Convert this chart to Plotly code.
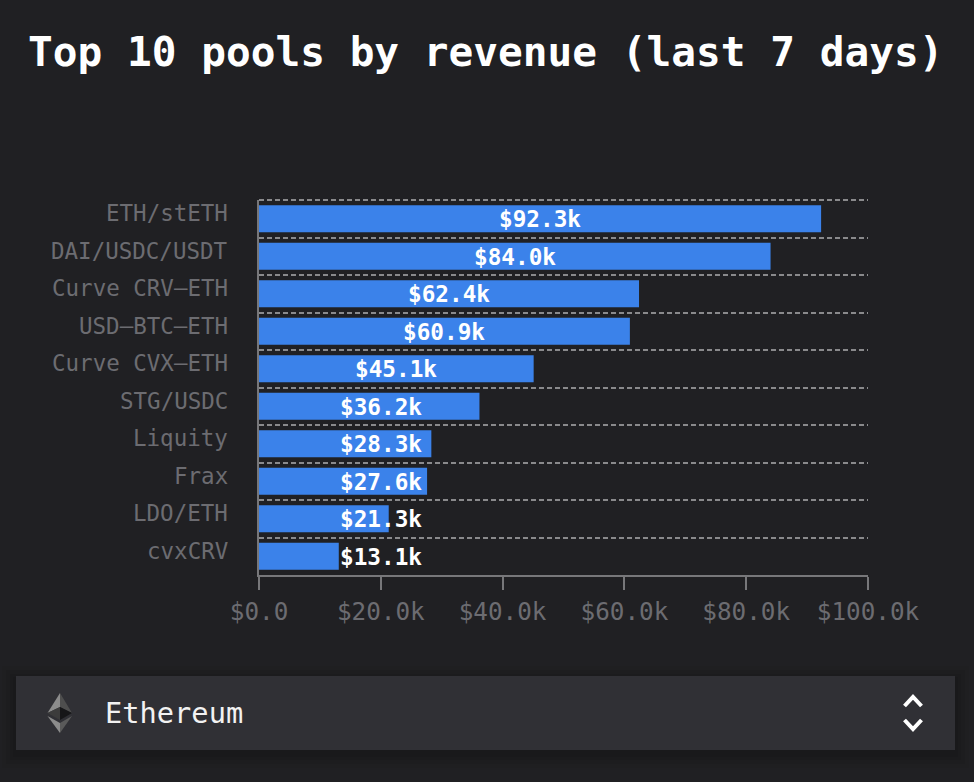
import plotly.graph_objects as go

# Pool revenue over the last seven days, in US dollars
pools = ["ETH/stETH", "DAI/USDC/USDT", "Curve CRV\u2014ETH", "USD\u2014BTC\u2014ETH", "Curve CVX\u2014ETH",
         "STG/USDC", "Liquity", "Frax", "LDO/ETH", "cvxCRV"]
revenue = [92300, 84000, 62400, 60900, 45100, 36200, 28300, 27600, 21300, 13100]
revenue_labels = ["$92.3k", "$84.0k", "$62.4k", "$60.9k", "$45.1k", "$36.2k", "$28.3k", "$27.6k", "$21.3k", "$13.1k"]
tick_values = [0, 20000, 40000, 60000, 80000, 100000]
tick_labels = ["$0.0", "$20.0k", "$40.0k", "$60.0k", "$80.0k", "$100.0k"]
MIN_LABEL_CENTER = 20000

W, H = 974, 782
L, R, T, B = 259, 868, 200, 575
BG = "#202023"
MONO = "DejaVu Sans Mono"
MUTED = "#6c6c71"
DASH = "5px,3px"
GRID = "#8a8a8c"


def px(x):
    return (x - L) / (R - L)


def py(y):
    return (B - y) / (B - T)


def poly(points, fill, line=None, width=0, close=True):
    path = "M " + " L ".join(f"{px(x):.5f},{py(y):.5f}" for x, y in points) + (" Z" if close else "")
    return dict(type="path", xref="paper", yref="paper", path=path, fillcolor=fill,
                line=dict(color=line or "rgba(0,0,0,0)", width=width), layer="below")


def box(x0, y0, x1, y1, fill):
    return dict(type="rect", xref="paper", yref="paper", x0=px(x0), x1=px(x1), y0=py(y0), y1=py(y1),
                fillcolor=fill, line=dict(width=0), layer="below")


fig = go.Figure()
fig.add_bar(y=pools, x=revenue, orientation="h", width=0.72, marker=dict(color="#3b82ea", line=dict(width=0)),
            hoverinfo="skip", showlegend=False)

shapes = [
    # Dashed rule along the top edge of the first band
    dict(type="line", xref="paper", yref="paper", x0=0, x1=1, y0=1, y1=1, layer="below",
         line=dict(color=GRID, width=2, dash=DASH)),
]
# Soft shadow around the network selector
for grow, alpha in [(14, 0.03), (10, 0.04), (6, 0.05), (3, 0.06)]:
    shapes.append(box(16 - grow, 676 - grow + 4, 955 + grow, 750 + grow + 4, f"rgba(0,0,0,{alpha})"))
shapes.append(box(16, 676, 955, 750, "#303035"))
# Ethereum diamond
shapes += [
    poly([(60, 693), (47.5, 713), (60, 707)], "#8c8c8c"),
    poly([(60, 693), (72, 713), (60, 707)], "#4e4e4e"),
    poly([(47.5, 713), (60, 707), (60, 720)], "#3c3c3c"),
    poly([(72, 713), (60, 707), (60, 720)], "#161618"),
    poly([(47.5, 716), (60, 733), (60, 723)], "#8c8c8c"),
    poly([(72, 716), (60, 733), (60, 723)], "#5a5a5a"),
]
# Up and down chevrons at the right end of the selector
shapes += [
    poly([(904.5, 706), (913, 697), (921.5, 706)], "rgba(0,0,0,0)", "#ffffff", 4, close=False),
    poly([(904.5, 720), (913, 729), (921.5, 720)], "rgba(0,0,0,0)", "#ffffff", 4, close=False),
]

annotations = [
    dict(xref="paper", yref="paper", x=px(485), y=py(52), text="<b>Top 10 pools by revenue (last 7 days)</b>",
         showarrow=False, xanchor="center", yanchor="middle",
         font=dict(family=MONO, size=41.1, color="#ffffff")),
    dict(xref="paper", yref="paper", x=px(103), y=py(713), text="Ethereum", showarrow=False,
         xanchor="left", yanchor="middle", font=dict(family=MONO, size=28.7, color="#f2f2f2")),
]
for name in pools:
    annotations.append(dict(xref="paper", yref="y", x=px(230), y=name, yshift=5.5, text=name, showarrow=False,
                            xanchor="right", yanchor="middle", font=dict(family=MONO, size=22.5, color=MUTED)))
# Value labels sit at the bar's midpoint, but never left of a fixed minimum
for name, value, label in zip(pools, revenue, revenue_labels):
    annotations.append(dict(xref="x", yref="y", x=max(value / 2, MIN_LABEL_CENTER), y=name, yshift=-0.5,
                            text=f"<b>{label}</b>", showarrow=False, xanchor="center", yanchor="middle",
                            font=dict(family=MONO, size=22.7, color="#ffffff")))

fig.update_layout(
    width=W, height=H, autosize=False,
    margin=dict(l=L, r=W - R, t=T, b=H - B, pad=0),
    paper_bgcolor=BG, plot_bgcolor=BG, bargap=0.28,
    shapes=shapes, annotations=annotations,
    xaxis=dict(range=[0, 100000], tickvals=tick_values, ticktext=tick_labels, ticks="outside", ticklen=13,
               tickwidth=2, tickcolor="#77777a", showgrid=False, zeroline=False, showline=True,
               linecolor="#77777a", linewidth=2, ticklabelstandoff=1,
               tickfont=dict(family=MONO, size=24.3, color=MUTED)),
    yaxis=dict(type="category", categoryorder="array", categoryarray=pools, autorange=False, range=[9.5, -0.5],
               tickson="boundaries", showticklabels=False, ticks="", showgrid=True, griddash=DASH,
               gridcolor=GRID, gridwidth=2, zeroline=False, showline=True, linecolor="#77777a",
               linewidth=2),
)

fig.write_html("out.html", config=dict(displayModeBar=False))
